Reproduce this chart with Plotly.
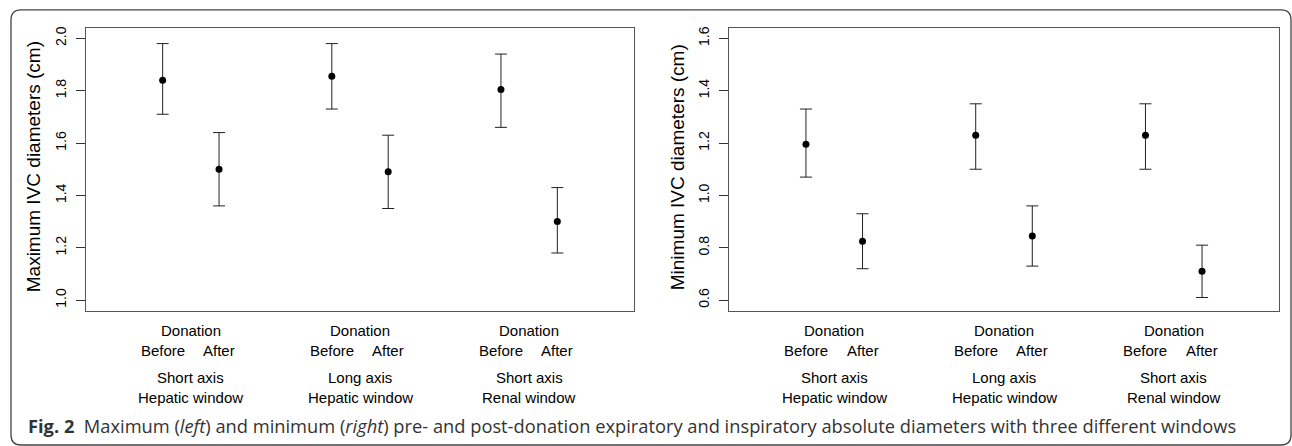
import plotly.graph_objects as go

# ---- data ----
positions = [1, 2, 4, 5, 7, 8]
max_mean = [1.84, 1.50, 1.855, 1.49, 1.805, 1.30]
max_upper = [1.98, 1.64, 1.98, 1.63, 1.94, 1.43]
max_lower = [1.71, 1.36, 1.73, 1.35, 1.66, 1.18]
min_mean = [1.195, 0.825, 1.23, 0.845, 1.23, 0.71]
min_upper = [1.33, 0.93, 1.35, 0.96, 1.35, 0.81]
min_lower = [1.07, 0.72, 1.10, 0.73, 1.10, 0.61]
group_centers = [1.5, 4.5, 7.5]
group_line1 = ["Short axis", "Long axis", "Short axis"]
group_line2 = ["Hepatic window", "Hepatic window", "Renal window"]
max_ticks = [1.0, 1.2, 1.4, 1.6, 1.8, 2.0]
min_ticks = [0.6, 0.8, 1.0, 1.2, 1.4, 1.6]

W, H = 1292, 446
def px(x):
    return x / W
def py(y):
    return 1 - y / H

fig = go.Figure()
for mean, up, lo, xa, ya in [(max_mean, max_upper, max_lower, "x", "y"),
                             (min_mean, min_upper, min_lower, "x2", "y2")]:
    fig.add_trace(go.Scatter(
        x=positions, y=mean, mode="markers", xaxis=xa, yaxis=ya,
        marker=dict(color="black", size=7),
        error_y=dict(type="data", symmetric=False,
                     array=[u - m for u, m in zip(up, mean)],
                     arrayminus=[m - l for m, l in zip(mean, lo)],
                     width=6, thickness=1, color="#222"),
        showlegend=False, hoverinfo="skip"))

axfont = dict(family="Liberation Sans, Arial, sans-serif", size=14, color="black")
xcommon = dict(range=[-0.36, 9.36], showticklabels=False, ticks="", showgrid=False,
               zeroline=False, showline=True, mirror=True, linecolor="#555", linewidth=1)
ycommon = dict(showgrid=False, zeroline=False, showline=True, mirror=True,
               linecolor="#555", linewidth=1, ticks="outside", ticklen=9,
               tickcolor="#333", tickwidth=1, tickangle=-90, tickfont=axfont,
               ticklabelstandoff=4)

y0, y1 = py(310), py(26)
fig.update_layout(
    width=W, height=H, margin=dict(l=0, r=0, t=0, b=0),
    paper_bgcolor="white", plot_bgcolor="white",
    xaxis=dict(domain=[px(86), px(634)], anchor="y", **xcommon),
    yaxis=dict(domain=[y0, y1], anchor="x", range=[0.96, 2.04],
               tickvals=max_ticks, ticktext=[f"{v:.1f}" for v in max_ticks], **ycommon),
    xaxis2=dict(domain=[px(729), px(1279)], anchor="y2", **xcommon),
    yaxis2=dict(domain=[y0, y1], anchor="x2", range=[0.56, 1.64],
                tickvals=min_ticks, ticktext=[f"{v:.1f}" for v in min_ticks], **ycommon),
)

lab = dict(family="Liberation Sans, Arial, sans-serif", size=15, color="black")
ann = []
for xr in ["x", "x2"]:
    for i, c in enumerate(group_centers):
        ann.append(dict(x=c, y=py(330), xref=xr, yref="paper", text="Donation",
                        showarrow=False, font=lab, xanchor="center", yanchor="middle"))
        ann.append(dict(x=positions[2 * i], y=py(350), xref=xr, yref="paper", text="Before",
                        showarrow=False, font=lab, xanchor="center", yanchor="middle"))
        ann.append(dict(x=positions[2 * i + 1], y=py(350), xref=xr, yref="paper", text="After",
                        showarrow=False, font=lab, xanchor="center", yanchor="middle"))
        ann.append(dict(x=c, y=py(377), xref=xr, yref="paper", text=group_line1[i],
                        showarrow=False, font=lab, xanchor="center", yanchor="middle"))
        ann.append(dict(x=c, y=py(397), xref=xr, yref="paper", text=group_line2[i],
                        showarrow=False, font=lab, xanchor="center", yanchor="middle"))

tfont = dict(family="Liberation Sans, Arial, sans-serif", size=19, color="black")
ann.append(dict(x=px(33), y=py(166), xref="paper", yref="paper",
                text="Maximum IVC diameters (cm)", textangle=-90, showarrow=False,
                font=tfont, xanchor="center", yanchor="middle"))
ann.append(dict(x=px(677), y=py(166), xref="paper", yref="paper",
                text="Minimum IVC diameters (cm)", textangle=-90, showarrow=False,
                font=tfont, xanchor="center", yanchor="middle"))

ann.append(dict(x=px(26), y=py(425), xref="paper", yref="paper",
                text="<b>Fig. 2</b>\u00a0\u00a0Maximum (<i>left</i>) and minimum (<i>right</i>) pre- and post-donation expiratory and inspiratory absolute diameters with three different windows",
                showarrow=False, xanchor="left", yanchor="middle",
                font=dict(family="Open Sans, sans-serif", size=18.3, color="#333")))
fig.update_layout(annotations=ann)

# rounded outer frame
L, T, R, B, r = 11, 8, 1291, 445, 10
path = (f"M {px(L+r)},{py(T)} L {px(R-r)},{py(T)} Q {px(R)},{py(T)} {px(R)},{py(T+r)} "
        f"L {px(R)},{py(B-r)} Q {px(R)},{py(B)} {px(R-r)},{py(B)} "
        f"L {px(L+r)},{py(B)} Q {px(L)},{py(B)} {px(L)},{py(B-r)} "
        f"L {px(L)},{py(T+r)} Q {px(L)},{py(T)} {px(L+r)},{py(T)} Z")
fig.add_shape(type="path", path=path, xref="paper", yref="paper",
              line=dict(color="#444", width=1.3))

fig.write_html("out.html", config={"displayModeBar": False, "staticPlot": True},
               post_script="document.body.style.margin='0';document.body.style.overflow='hidden';")
